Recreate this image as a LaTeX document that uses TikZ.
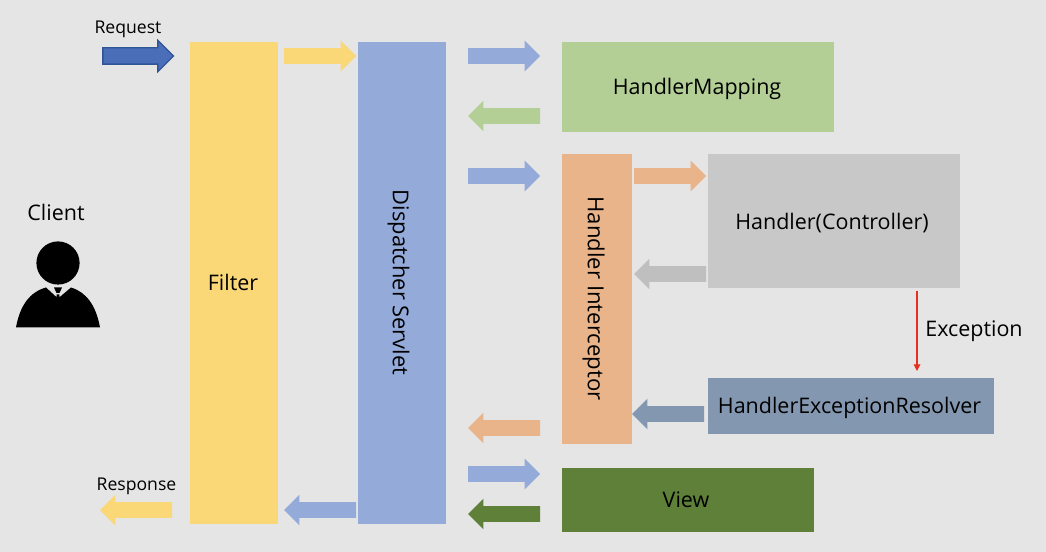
\documentclass[tikz,border=0pt]{standalone}
\usepackage{fontspec}
\setmainfont{Open Sans}
\usetikzlibrary{shapes.arrows,arrows.meta}
\definecolor{bg}{HTML}{E5E5E5}
\definecolor{yel}{HTML}{FAD878}
\definecolor{blu}{HTML}{94ABD9}
\definecolor{grn}{HTML}{B3CF95}
\definecolor{org}{HTML}{E9B48A}
\definecolor{gry}{HTML}{C8C8C8}
\definecolor{gra}{HTML}{BFBFBF}
\definecolor{slt}{HTML}{8497B0}
\definecolor{dgn}{HTML}{5E8039}
\definecolor{rqf}{HTML}{4A6EB8}
\definecolor{rqd}{HTML}{2F5597}
\definecolor{exc}{HTML}{E8301F}
\tikzset{
  x=0.75pt,y=-0.75pt,
  boxnode/.style={draw=none,inner sep=0pt,outer sep=0pt,text=black,font=\fontsize{16.1}{19}\selectfont},
  blockarrow/.style={single arrow,draw=none,inner xsep=0pt,inner ysep=5.625pt,outer sep=0pt,anchor=tip,
    minimum height=54pt,minimum width=0pt,single arrow tip angle=90,single arrow head extend=5.625pt},
  toleft/.style={shape border rotate=180},
  smalllabel/.style={inner sep=0pt,text=black,font=\fontsize{13.2}{15}\selectfont},
  biglabel/.style={inner sep=0pt,text=black,font=\fontsize{16.1}{19}\selectfont},
}
\begin{document}
\begin{tikzpicture}
\useasboundingbox (0,0) rectangle (1046,552);
\fill[bg] (0,0) rectangle (1046,552);
% boxes
\node[boxnode,fill=yel,minimum width=66pt,minimum height=361.5pt] (filter) at (234,283) {};
\node[boxnode,fill=blu,minimum width=66pt,minimum height=361.5pt] (dispatcher) at (402,283) {};
\node[boxnode,fill=grn,minimum width=204pt,minimum height=67.5pt] (mapping) at (698,87) {};
\node[boxnode,fill=org,minimum width=52.5pt,minimum height=217.5pt] (interceptor) at (597,299) {};
\node[boxnode,fill=gry,minimum width=189pt,minimum height=100.5pt] (handler) at (834,221) {};
\node[boxnode,fill=slt,minimum width=214.5pt,minimum height=42pt] (resolver) at (851,406) {};
\node[boxnode,fill=dgn,minimum width=189pt,minimum height=48pt] (view) at (688,500) {};
% box texts
\node[biglabel] (filtertext) at (233,282.5) {Filter};
\node[biglabel,rotate=-90,font=\fontsize{16.4}{19}\selectfont] (dispatchertext) at (398.5,282.5) {Dispatcher Servlet};
\node[biglabel] (mappingtext) at (697,89) {HandlerMapping};
\node[biglabel,rotate=-90,font=\fontsize{16.6}{19}\selectfont] (interceptortext) at (593.5,298.5) {Handler Interceptor};
\node[biglabel] (handlertext) at (832,223) {Handler(Controller)};
\node[biglabel] (resolvertext) at (849.5,407.5) {HandlerExceptionResolver};
\node[biglabel] (viewtext) at (686,500) {View};
% labels
\node[smalllabel] (request) at (128,29.5) {Request};
\node[smalllabel] (response) at (136.5,486) {Response};
\node[biglabel] (client) at (56,212) {Client};
\node[biglabel] (exception) at (974,331) {Exception};
% block arrows
\node[blockarrow,fill=rqf,draw=rqd,line width=1pt,minimum height=53pt] (a0) at (173.5,56) {};
\node[blockarrow,fill=yel] (a1) at (356,56) {};
\node[blockarrow,fill=blu] (a2) at (540,56) {};
\node[blockarrow,fill=grn,toleft] (a3) at (468,116) {};
\node[blockarrow,fill=blu] (a4) at (540,176) {};
\node[blockarrow,fill=org] (a5) at (706,176) {};
\node[blockarrow,fill=gra,toleft] (a6) at (634,274) {};
\node[blockarrow,fill=slt,toleft] (a7) at (632,414) {};
\node[blockarrow,fill=org,toleft] (a8) at (468,428) {};
\node[blockarrow,fill=blu] (a9) at (540,474) {};
\node[blockarrow,fill=dgn,toleft] (a10) at (468,514) {};
\node[blockarrow,fill=blu,toleft] (a11) at (284,510) {};
\node[blockarrow,fill=yel,toleft] (a12) at (100,510) {};
% exception connector
\coordinate (excfrom) at (917,291);
\coordinate (excto) at (917,371);
\draw[exc,line width=0.9pt,-{Triangle[length=5pt,width=5pt]}] (excfrom) -- (excto);
% client figure
\fill[black] (58,263) circle (16.2pt);
\fill[black] (16,327.5) .. controls (20,305) and (30,292) .. (46,287.5)
  -- (58,298.5) -- (71,287.5) .. controls (86,292) and (96,305) .. (100,327.5) -- cycle;
\fill[black] (54,287.5) -- (62,287.5) -- (59.5,293) -- (56.5,293) -- cycle;
\fill[black] (56.7,294.5) -- (59.3,294.5) -- (59.8,299) -- (56.2,299) -- cycle;
\end{tikzpicture}
\end{document}
